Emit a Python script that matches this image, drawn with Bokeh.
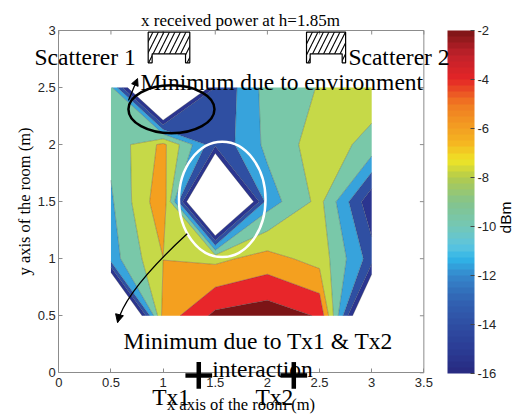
import numpy as np
from bokeh.plotting import figure
from bokeh.models import (LinearAxis, FixedTicker, NumeralTickFormatter, Label, Arrow,
                          NormalHead, ColorBar, LinearColorMapper, Range1d)
from bokeh.embed import file_html
from bokeh.resources import INLINE

# ---------------- data (received power in dBm on the measurement grid) ----------------
x_grid = [0.5, 1.0, 1.5, 2.0, 2.5, 3.0]
y_grid = [0.5, 1.0, 1.5, 2.0, 2.5]
power_y050 = [-32.0, -5.2, -1.5, -0.8, -2.2, -24.0]
power_y100 = [-10.9, -6.02, -6.5, -5.2, -6.8, -13.0]
power_y150 = [-10.3, -4.5, -30.0, -11.0, -7.4, -15.6]
power_y200 = [-9.5, -5.5, -13.5, -9.5, -7.0, -8.6]
power_y250 = [-9.5, -30.0, -14.0, -9.2, -7.9, -7.0]

levels = [-16, -14, -12, -10, -8, -6, -4, -2, 0]
band_colors = ["#2b3590", "#2f4fa2", "#37a3dc", "#79c8a9", "#c6d948",
               "#f4a01f", "#e8262a", "#7c1416"]

x_ticks = [0, 0.5, 1, 1.5, 2, 2.5, 3, 3.5]
y_ticks = [0, 0.5, 1, 1.5, 2, 2.5, 3]
cb_ticks = [-16, -14, -12, -10, -8, -6, -4, -2]

# transmitters
tx_x = [1.342, 2.253]
tx_y = [-0.023, -0.023]
tx_names = ["Tx1", "Tx2"]

# scatterers (outline of the hatched boxes)
scat1_x = [0.857, 0.857, 0.895, 0.895, 1.215, 1.215, 1.256, 1.256]
scat2_x = [2.375, 2.375, 2.41, 2.41, 2.717, 2.717, 2.75, 2.75]
scat_y = [2.985, 2.717, 2.717, 2.796, 2.796, 2.717, 2.717, 2.985]

# colour bar palette stops
cb_stop_values = [-16, -15, -14, -13, -12, -11.3, -10.8, -10, -9, -8, -7.3, -6.6, -6, -5, -4, -3, -2]
cb_stop_colors = ["#27297f", "#2b3c95", "#2f4ea3", "#3163b3", "#3588cc", "#2fb5e8", "#5cc4df",
                  "#74c7b5", "#84c48c", "#b3cb4c", "#eee526", "#f5b521", "#f3a022", "#f07a22",
                  "#e52526", "#c0212b", "#7a1515"]

z = np.array([power_y050, power_y100, power_y150, power_y200, power_y250])


def hex2rgb(h):
    return [int(h[i:i + 2], 16) for i in (1, 3, 5)]


steps = np.linspace(-16, -2, 57)
stop_rgb = np.array([hex2rgb(c) for c in cb_stop_colors], dtype=float)
cb_palette = []
for v in steps[:-1] + 0.125:
    rgb = [int(round(np.interp(v, cb_stop_values, stop_rgb[:, k]))) for k in range(3)]
    cb_palette.append("#%02x%02x%02x" % tuple(rgb))

SERIF = "Liberation Serif"
SANS = "Liberation Sans"
W, H = 524, 416
# the figure frame covers the whole canvas; the axes box sits inside it
p = figure(width=W, height=H, x_range=Range1d(-0.559, 4.465), y_range=Range1d(-0.383, 3.263),
           title=None, output_backend="svg", toolbar_location=None,
           x_axis_location=None, y_axis_location=None,
           min_border=0, min_border_left=0, min_border_right=0,
           min_border_top=0, min_border_bottom=0)
p.grid.visible = False
p.outline_line_color = None
p.background_fill_color = "white"
p.border_fill_color = "white"

xax = LinearAxis(fixed_location=0, bounds=(0, 3.5))
yax = LinearAxis(fixed_location=0, bounds=(0, 3))
p.add_layout(xax, "below")
p.add_layout(yax, "left")

for ax, ticks in ((xax, x_ticks), (yax, y_ticks)):
    ax.ticker = FixedTicker(ticks=ticks)
    ax.formatter = NumeralTickFormatter(format="0.[0]")
    ax.axis_line_color = "#8c8c8c"
    ax.major_tick_line_color = "#8c8c8c"
    ax.major_tick_in = 4
    ax.major_tick_out = 0
    ax.minor_tick_line_color = None
    ax.major_label_text_font = SANS
    ax.major_label_text_color = "#262626"
    ax.major_label_text_font_size = "13px"
    ax.axis_label_text_font = SERIF
    ax.axis_label_text_font_style = "normal"
    ax.axis_label_text_font_size = "16.5px"
    ax.axis_label_text_color = "black"
xax.major_label_standoff = 5
yax.major_label_standoff = 3
xax.axis_label = "x axis of the room (m)"
yax.axis_label = "y axis of the room (m)"
xax.axis_label_standoff = 5
yax.axis_label_standoff = 0

# filled contours
p.contour(x=x_grid, y=y_grid, z=z, levels=levels, fill_color=band_colors,
          line_color="#3a3a3a", line_alpha=0.5, line_width=0.6)

# box: top and right sides with inward ticks
x_lo, x_hi = x_ticks[0], x_ticks[-1]
y_lo, y_hi = y_ticks[0], y_ticks[-1]
p.segment(x0=[x_lo, x_hi], y0=[y_hi, y_lo], x1=[x_hi, x_hi], y1=[y_hi, y_hi],
          line_color="#8c8c8c", line_width=1)
p.segment(x0=x_ticks, y0=[y_hi] * len(x_ticks), x1=x_ticks, y1=[y_hi - 0.035] * len(x_ticks),
          line_color="#8c8c8c", line_width=1)
p.segment(x0=[x_hi] * len(y_ticks), y0=y_ticks, x1=[x_hi - 0.038] * len(y_ticks), y1=y_ticks,
          line_color="#8c8c8c", line_width=1)

# scatterers
for sx in (scat1_x, scat2_x):
    p.patch(sx, scat_y, fill_color=None, line_color="black", line_width=1.2,
            hatch_pattern="/", hatch_color="black", hatch_scale=11, hatch_weight=1.1)

# ellipses marking minima
p.ellipse(x=[1.08], y=[2.31], width=[0.825], height=[0.42], fill_color=None,
          line_color="black", line_width=2.5)
p.ellipse(x=[1.567], y=[1.519], width=[0.83], height=[1.01], fill_color=None,
          line_color="white", line_width=2.5)

# curved arrow to the lower text
p.quadratic(x0=[1.231], y0=[1.218], x1=[0.563], y1=[0.441], cx=[0.64], cy=[0.721],
            line_color="black", line_width=1.3)
p.add_layout(Arrow(end=NormalHead(size=8, fill_color="black", line_color="black"),
                   x_start=0.5746, y_start=0.483, x_end=0.563, y_end=0.441,
                   line_color="black", line_width=1.3))
# short arrow to the upper text
p.add_layout(Arrow(end=NormalHead(size=7, fill_color="black", line_color="black"),
                   x_start=0.668, y_start=2.386, x_end=0.755, y_end=2.579,
                   line_color="black", line_width=1.3))

# colour bar
mapper = LinearColorMapper(palette=cb_palette, low=-16, high=-2)
cb = ColorBar(color_mapper=mapper, ticker=FixedTicker(ticks=cb_ticks),
              formatter=NumeralTickFormatter(format="0"), location=(447, 43),
              width=27, height=343, padding=0, margin=0,
              major_tick_in=4, major_tick_out=0, major_tick_line_color="#444444",
              minor_tick_line_color=None,
              major_label_text_font=SANS, major_label_text_font_size="13px",
              major_label_text_color="#262626", label_standoff=3,
              bar_line_color=None, background_fill_alpha=0, border_line_color=None)
p.add_layout(cb, "center")


def add_text(x, y, text, size, font=SERIF, align="left", baseline="alphabetic", angle=0.0):
    p.add_layout(Label(x=x, y=y, text=text, text_font=font, text_font_size=size,
                       text_color="black", text_align=align, text_baseline=baseline,
                       angle=angle))


add_text(1.742, 3.092, "x received power at h=1.85m", "17px", align="center")
add_text(-0.233, 2.772, "Scatterer 1", "23.5px")
add_text(2.777, 2.772, "Scatterer 2", "23.5px")
add_text(0.783, 2.547, "Minimum due to environment", "23.5px")
add_text(0.621, 0.283, "Minimum due to Tx1 & Tx2", "23.5px")
add_text(1.471, 0.029, "interaction", "23.5px")
add_text(4.283, 1.361, "dBm", "15.5px", font=SANS, align="center", baseline="middle",
         angle=np.pi / 2)

# transmitters: plus markers and names
for tx, ty, name, lx in zip(tx_x, tx_y, tx_names, [0.895, 1.886]):
    p.add_layout(Arrow(end=None, x_start=tx - 0.128, y_start=ty, x_end=tx + 0.128, y_end=ty,
                       line_color="black", line_width=4.5))
    p.add_layout(Arrow(end=None, x_start=tx, y_start=ty - 0.117, x_end=tx, y_end=ty + 0.117,
                       line_color="black", line_width=4.5))
    add_text(lx, -0.214, name, "23.5px")

open("out.html", "w").write(file_html(p, INLINE))
